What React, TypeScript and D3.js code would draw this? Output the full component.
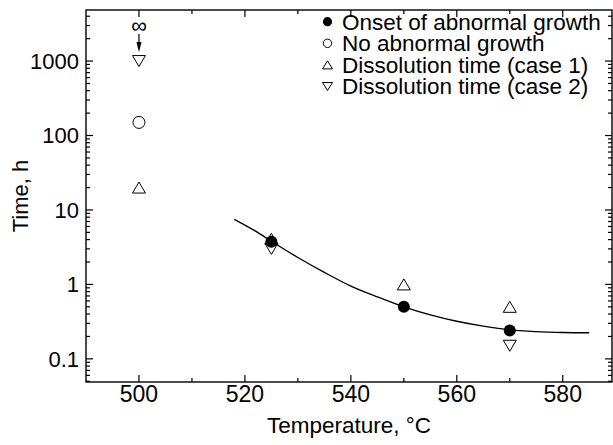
import React from "react";
import * as d3 from "d3";

// Onset of abnormal growth (filled circles)
const onsetTemp = [525, 550, 570];
const onsetTime = [3.75, 0.5, 0.24];
// No abnormal growth (open circle)
const noGrowthTemp = [500];
const noGrowthTime = [150];
// Dissolution time, case 1 (up triangles)
const case1Temp = [500, 525, 550, 570];
const case1Time = [20, 4.1, 1.0, 0.5];
// Dissolution time, case 2 (down triangles)
const case2Temp = [500, 525, 570];
const case2Time = [1000, 3.0, 0.15];
// fitted curve
const fitTemp = [518, 522, 525, 530, 535, 540, 545, 550, 555, 560, 565, 570, 575, 580, 585];
const fitTime = [7.5, 5.2, 3.8, 2.3, 1.45, 0.95, 0.68, 0.5, 0.39, 0.32, 0.275, 0.245, 0.232, 0.226, 0.224];

const xMajor = [500, 520, 540, 560, 580];
const yMajor = [0.1, 1, 10, 100, 1000];
const yLabels = ["0.1", "1", "10", "100", "1000"];
const legendItems = [
  "Onset of abnormal growth",
  "No abnormal growth",
  "Dissolution time (case 1)",
  "Dissolution time (case 2)",
];

const W = 613;
const H = 445;
const font = "'Liberation Sans', Arial, Helvetica, sans-serif";

const x = d3.scaleLinear().domain([490, 589.3]).range([86, 612]);
const y = d3.scaleLog().domain([0.0489, 4850]).range([382, 10]);

function triUp(cx: number, cy: number, w: number, h: number) {
  return `M${cx - w / 2},${cy + h / 2}L${cx + w / 2},${cy + h / 2}L${cx},${cy - h / 2}Z`;
}
function triDown(cx: number, cy: number, w: number, h: number) {
  return `M${cx - w / 2},${cy - h / 2}L${cx + w / 2},${cy - h / 2}L${cx},${cy + h / 2}Z`;
}

export default function App() {
  const [x0, x1] = x.range();
  const [yb, yt] = y.range();

  const xMinor = x.ticks(10).filter((t) => t > 490 && !xMajor.includes(t));
  const yMinor = y.ticks().filter((t) => !yMajor.some((m) => Math.abs(m - t) / m < 1e-6));

  const line = d3
    .line<number>()
    .x((d, i) => x(fitTemp[i]))
    .y((d) => y(d))
    .curve(d3.curveMonotoneX);

  const stroke = "#000";

  return (
    <svg
      width={W}
      height={H}
      style={{ position: "absolute", left: 0, top: 0, background: "#fff" }}
      fontFamily={font}
    >
      <rect x={0} y={0} width={W} height={H} fill="#fff" />

      {/* ticks, inward on all four sides */}
      <g stroke={stroke} strokeWidth={1.2}>
        {xMajor.map((t) => (
          <g key={"xM" + t}>
            <line x1={x(t)} x2={x(t)} y1={yb} y2={yb - 7} />
            <line x1={x(t)} x2={x(t)} y1={yt} y2={yt + 7} />
          </g>
        ))}
        {xMinor.map((t) => (
          <g key={"xm" + t}>
            <line x1={x(t)} x2={x(t)} y1={yb} y2={yb - 4} />
            <line x1={x(t)} x2={x(t)} y1={yt} y2={yt + 4} />
          </g>
        ))}
        {yMajor.map((t) => (
          <g key={"yM" + t}>
            <line x1={x0} x2={x0 + 7} y1={y(t)} y2={y(t)} />
            <line x1={x1} x2={x1 - 7} y1={y(t)} y2={y(t)} />
          </g>
        ))}
        {yMinor.map((t) => (
          <g key={"ym" + t}>
            <line x1={x0} x2={x0 + 4} y1={y(t)} y2={y(t)} />
            <line x1={x1} x2={x1 - 4} y1={y(t)} y2={y(t)} />
          </g>
        ))}
      </g>

      {/* frame */}
      <rect x={x0} y={yt} width={x1 - x0} height={yb - yt} fill="none" stroke={stroke} strokeWidth={1.4} />

      {/* tick labels */}
      <g fill="#000">
        {xMajor.map((t) => (
          <text key={"xl" + t} x={x(t)} y={402} textAnchor="middle" fontSize={23}>
            {t}
          </text>
        ))}
        {yMajor.map((t, i) => (
          <text key={"yl" + t} x={79} y={y(t)} dy="0.36em" textAnchor="end" fontSize={22}>
            {yLabels[i]}
          </text>
        ))}
      </g>

      {/* axis titles */}
      <text x={(x0 + x1) / 2} y={433} fontSize={22.5} textAnchor="middle">
        Temperature, °C
      </text>
      <text transform={`translate(28,${(yb + yt) / 2}) rotate(-90)`} fontSize={22} textAnchor="middle">
        Time, h
      </text>

      {/* open markers */}
      <g fill="#fff" stroke={stroke} strokeWidth={1}>
        {case1Temp.map((t, i) => (
          <path key={"c1" + i} d={triUp(x(t), y(case1Time[i]), 13, 11)} />
        ))}
        {case2Temp.map((t, i) => (
          <path key={"c2" + i} d={triDown(x(t), y(case2Time[i]), 13, 11)} />
        ))}
        {noGrowthTemp.map((t, i) => (
          <circle key={"ng" + i} cx={x(t)} cy={y(noGrowthTime[i])} r={6} />
        ))}
      </g>

      {/* fitted curve */}
      <path d={line(fitTime) || ""} fill="none" stroke={stroke} strokeWidth={1.4} />

      {/* filled markers */}
      {onsetTemp.map((t, i) => (
        <circle key={"on" + i} cx={x(t)} cy={y(onsetTime[i])} r={6} fill="#000" />
      ))}

      {/* infinity with arrow above the 500 °C points */}
      <text x={x(500)} y={33} fontSize={22} textAnchor="middle">
        ∞
      </text>
      <line x1={x(500)} x2={x(500)} y1={34} y2={46} stroke={stroke} strokeWidth={1.2} />
      <path d={`M${x(500) - 2.5},${42}L${x(500) + 2.5},${42}L${x(500)},${52}Z`} fill="#000" />

      {/* legend */}
      <g>
        {legendItems.map((label, i) => {
          const cy = 21.7 + i * 21.6;
          const mx = 327.5;
          return (
            <g key={label}>
              {i === 0 && <circle cx={mx} cy={cy} r={4.6} fill="#000" />}
              {i === 1 && <circle cx={mx} cy={cy} r={4.2} fill="#fff" stroke={stroke} strokeWidth={1} />}
              {i === 2 && <path d={triUp(mx, cy, 10, 8)} fill="#fff" stroke={stroke} strokeWidth={1} />}
              {i === 3 && <path d={triDown(mx, cy, 10, 8)} fill="#fff" stroke={stroke} strokeWidth={1} />}
              <text x={342} y={cy} dy="0.35em" fontSize={22.5}>
                {label}
              </text>
            </g>
          );
        })}
      </g>
    </svg>
  );
}
